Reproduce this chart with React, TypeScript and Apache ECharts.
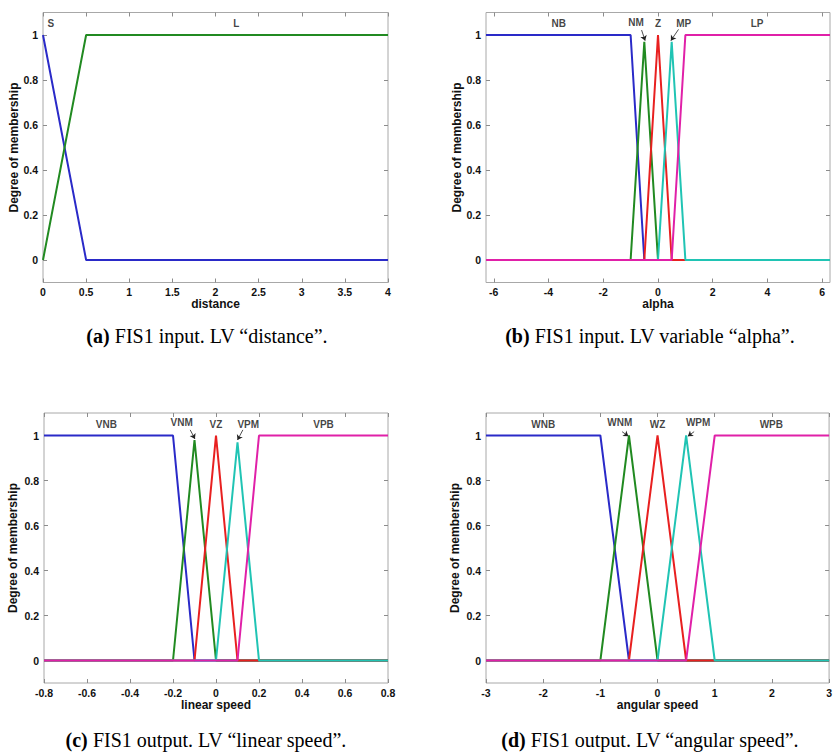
import React, { useEffect, useRef } from "react";
import * as echarts from "echarts";

const PI2 = 6.2832;

// Panel (a) distance
const distTicks = [0, 0.5, 1, 1.5, 2, 2.5, 3, 3.5, 4];
const distS = [[0, 1], [0.5, 0], [4, 0]];
const distL = [[0, 0], [0.5, 1], [4, 1]];
const distLabelNames = ["S", "L"];
const distLabelPos = [[0.09, 1.05], [2.24, 1.05]];
const distArrows: number[][][] = [];

// Panel (b) alpha
const alphaTicks = [-6, -4, -2, 0, 2, 4, 6];
const alphaNB = [[-PI2, 1], [-1, 1], [-0.5, 0], [PI2, 0]];
const alphaNM = [[-PI2, 0], [-1, 0], [-0.5, 0.97], [0, 0], [PI2, 0]];
const alphaZ = [[-PI2, 0], [-0.5, 0], [0, 1], [0.5, 0], [PI2, 0]];
const alphaMP = [[-PI2, 0], [0, 0], [0.5, 0.97], [1, 0], [PI2, 0]];
const alphaLP = [[-PI2, 0], [0.5, 0], [1, 1], [PI2, 1]];
const alphaLabelNames = ["NB", "NM", "Z", "MP", "LP"];
const alphaLabelPos = [[-3.63, 1.05], [-0.8, 1.055], [0, 1.05], [0.94, 1.05], [3.62, 1.05]];
const alphaArrows = [
  [[-0.6, 1.022], [-0.47, 0.975]],
  [[0.75, 1.025], [0.47, 0.975]],
];

// Panel (c) linear speed
const linTicks = [-0.8, -0.6, -0.4, -0.2, 0, 0.2, 0.4, 0.6, 0.8];
const linVNB = [[-0.8, 1], [-0.2, 1], [-0.1, 0], [0.8, 0]];
const linVNM = [[-0.8, 0], [-0.2, 0], [-0.1, 0.98], [0, 0], [0.8, 0]];
const linVZ = [[-0.8, 0], [-0.1, 0], [0, 1], [0.1, 0], [0.8, 0]];
const linVPM = [[-0.8, 0], [0, 0], [0.1, 0.97], [0.2, 0], [0.8, 0]];
const linVPB = [[-0.8, 0], [0.1, 0], [0.2, 1], [0.8, 1]];
const linLabelNames = ["VNB", "VNM", "VZ", "VPM", "VPB"];
const linLabelPos = [[-0.51, 1.05], [-0.16, 1.06], [0, 1.05], [0.15, 1.047], [0.5, 1.05]];
const linArrows = [
  [[-0.12, 1.025], [-0.098, 0.985]],
  [[0.125, 1.025], [0.1, 0.98]],
];

// Panel (d) angular speed
const angTicks = [-3, -2, -1, 0, 1, 2, 3];
const angWNB = [[-3, 1], [-1, 1], [-0.5, 0], [3, 0]];
const angWNM = [[-3, 0], [-1, 0], [-0.5, 1], [0, 0], [3, 0]];
const angWZ = [[-3, 0], [-0.5, 0], [0, 1], [0.5, 0], [3, 0]];
const angWPM = [[-3, 0], [0, 0], [0.5, 1], [1, 0], [3, 0]];
const angWPB = [[-3, 0], [0.5, 0], [1, 1], [3, 1]];
const angLabelNames = ["WNB", "WNM", "WZ", "WPM", "WPB"];
const angLabelPos = [[-2.0, 1.05], [-0.66, 1.06], [0, 1.05], [0.71, 1.06], [1.99, 1.05]];
const angArrows = [
  [[-0.62, 1.017], [-0.51, 0.997]],
  [[0.64, 1.017], [0.53, 0.997]],
];

const yTicks = [0, 0.2, 0.4, 0.6, 0.8, 1];

const captions = [
  ["(a)", " FIS1 input. LV \u201cdistance\u201d."],
  ["(b)", " FIS1 input. LV variable \u201calpha\u201d."],
  ["(c)", " FIS1 output. LV \u201clinear speed\u201d."],
  ["(d)", " FIS1 output. LV \u201cangular speed\u201d."],
];

const BLUE = "#2a2ac8";
const GREEN = "#218a21";
const RED = "#e82020";
const CYAN = "#20c4b4";
const MAGENTA = "#e020a8";

const FONT = "Liberation Sans";
const CAP_SIZE = 20;

type Panel = {
  grid: { left: number; top: number; width: number; height: number };
  xMin: number;
  xMax: number;
  xTicks: number[];
  xName: string;
  yGap: number;
  series: { data: number[][]; color: string }[];
  labels: string[];
  labelPos: number[][];
  arrows: number[][][];
  caption: string[];
  captionX: number;
  captionY: number;
};

const panels: Panel[] = [
  {
    grid: { left: 43, top: 12.5, width: 345, height: 270 },
    xMin: 0, xMax: 4, xTicks: distTicks, xName: "distance", yGap: 20,
    series: [{ data: distS, color: BLUE }, { data: distL, color: GREEN }],
    labels: distLabelNames, labelPos: distLabelPos, arrows: distArrows,
    caption: captions[0], captionX: 207, captionY: 336,
  },
  {
    grid: { left: 486, top: 12.5, width: 344, height: 270 },
    xMin: -PI2, xMax: PI2, xTicks: alphaTicks, xName: "alpha", yGap: 22,
    series: [
      { data: alphaNB, color: BLUE },
      { data: alphaNM, color: GREEN },
      { data: alphaZ, color: RED },
      { data: alphaMP, color: CYAN },
      { data: alphaLP, color: MAGENTA },
    ],
    labels: alphaLabelNames, labelPos: alphaLabelPos, arrows: alphaArrows,
    caption: captions[1], captionX: 650, captionY: 336,
  },
  {
    grid: { left: 44, top: 413, width: 344, height: 270 },
    xMin: -0.8, xMax: 0.8, xTicks: linTicks, xName: "linear speed", yGap: 25,
    series: [
      { data: linVNB, color: BLUE },
      { data: linVNM, color: GREEN },
      { data: linVZ, color: RED },
      { data: linVPM, color: CYAN },
      { data: linVPB, color: MAGENTA },
    ],
    labels: linLabelNames, labelPos: linLabelPos, arrows: linArrows,
    caption: captions[2], captionX: 206, captionY: 740,
  },
  {
    grid: { left: 486, top: 413, width: 345, height: 270 },
    xMin: -3, xMax: 3, xTicks: angTicks, xName: "angular speed", yGap: 25,
    series: [
      { data: angWNB, color: BLUE },
      { data: angWNM, color: GREEN },
      { data: angWZ, color: RED },
      { data: angWPM, color: CYAN },
      { data: angWPB, color: MAGENTA },
    ],
    labels: angLabelNames, labelPos: angLabelPos, arrows: angArrows,
    caption: captions[3], captionX: 650, captionY: 740,
  },
];

function buildOption() {
  const grid: any[] = [];
  const xAxis: any[] = [];
  const yAxis: any[] = [];
  const series: any[] = [];
  const graphic: any[] = [];
  const tickStyle = { show: true, inside: true, length: 4, lineStyle: { color: "#8c8c8c", width: 1 } };
  const noLine = { show: false, onZero: false };

  panels.forEach((p, g) => {
    grid.push({ ...p.grid, show: true, borderColor: "#a8a8a8", borderWidth: 1, backgroundColor: "#fff" });
    const xi = xAxis.length;
    const yi = yAxis.length;
    xAxis.push({
      type: "value", gridIndex: g, min: p.xMin, max: p.xMax, position: "bottom",
      axisLine: noLine,
      axisTick: { ...tickStyle, customValues: p.xTicks },
      axisLabel: {
        customValues: p.xTicks, margin: 4, color: "#111", fontFamily: FONT,
        fontWeight: "bold", fontSize: 10.5,
      },
      splitLine: { show: false },
      name: p.xName, nameLocation: "middle", nameGap: 15,
      nameTextStyle: { color: "#111", fontFamily: FONT, fontWeight: "bold", fontSize: 12 },
    });
    xAxis.push({
      type: "value", gridIndex: g, min: p.xMin, max: p.xMax, position: "top",
      axisLine: noLine,
      axisTick: { ...tickStyle, customValues: p.xTicks },
      axisLabel: { show: false },
      splitLine: { show: false },
    });
    yAxis.push({
      type: "value", gridIndex: g, min: -0.1, max: 1.1, position: "left",
      axisLine: noLine,
      axisTick: { ...tickStyle, customValues: yTicks },
      axisLabel: {
        customValues: yTicks, margin: 5, color: "#111", fontFamily: FONT,
        fontWeight: "bold", fontSize: 10.5,
      },
      splitLine: { show: false },
      name: "Degree of membership", nameLocation: "middle", nameGap: p.yGap,
      nameTextStyle: { color: "#111", fontFamily: FONT, fontWeight: "bold", fontSize: 12 },
    });
    yAxis.push({
      type: "value", gridIndex: g, min: -0.1, max: 1.1, position: "right",
      axisLine: noLine,
      axisTick: { ...tickStyle, customValues: yTicks },
      axisLabel: { show: false },
      splitLine: { show: false },
    });

    p.series.forEach((s) => {
      series.push({
        type: "line", xAxisIndex: xi, yAxisIndex: yi, data: s.data,
        showSymbol: false, symbol: "none", silent: true,
        lineStyle: { color: s.color, width: 2 }, itemStyle: { color: s.color },
      });
    });

    series.push({
      type: "scatter", xAxisIndex: xi, yAxisIndex: yi, symbolSize: 1, silent: true,
      itemStyle: { color: "rgba(0,0,0,0)" },
      data: p.labels.map((n, i) => ({ value: p.labelPos[i], name: n })),
      label: {
        show: true, position: "inside", formatter: (d: any) => d.name,
        color: "#111", fontFamily: FONT, fontWeight: "bold", fontSize: 10,
      },
    });

    if (p.arrows.length) {
      series.push({
        type: "lines", coordinateSystem: "cartesian2d", xAxisIndex: xi, yAxisIndex: yi,
        symbol: ["none", "arrow"], symbolSize: 5, silent: true,
        lineStyle: { color: "#222", width: 0.8, opacity: 1 },
        data: p.arrows.map((a) => ({ coords: a })),
      });
    }

    graphic.push({
      type: "text", x: p.captionX, y: p.captionY,
      style: {
        text: `{b|${p.caption[0]}}${p.caption[1]}`,
        rich: { b: { fontWeight: "bold", fontFamily: "Liberation Serif", fontSize: CAP_SIZE, fill: "#000" } },
        fontFamily: "Liberation Serif", fontSize: CAP_SIZE, fill: "#000",
        align: "center", verticalAlign: "middle",
      },
    });
  });

  return { animation: false, backgroundColor: "#fff", grid, xAxis, yAxis, series, graphic };
}

export default function App() {
  const ref = useRef<HTMLDivElement>(null);
  useEffect(() => {
    if (!ref.current) return;
    const chart = echarts.init(ref.current, undefined, { renderer: "svg" });
    chart.setOption(buildOption() as any);
    return () => chart.dispose();
  }, []);
  return (
    <div
      ref={ref}
      style={{ position: "absolute", left: 0, top: 0, width: 835, height: 755, background: "#fff" }}
    />
  );
}
